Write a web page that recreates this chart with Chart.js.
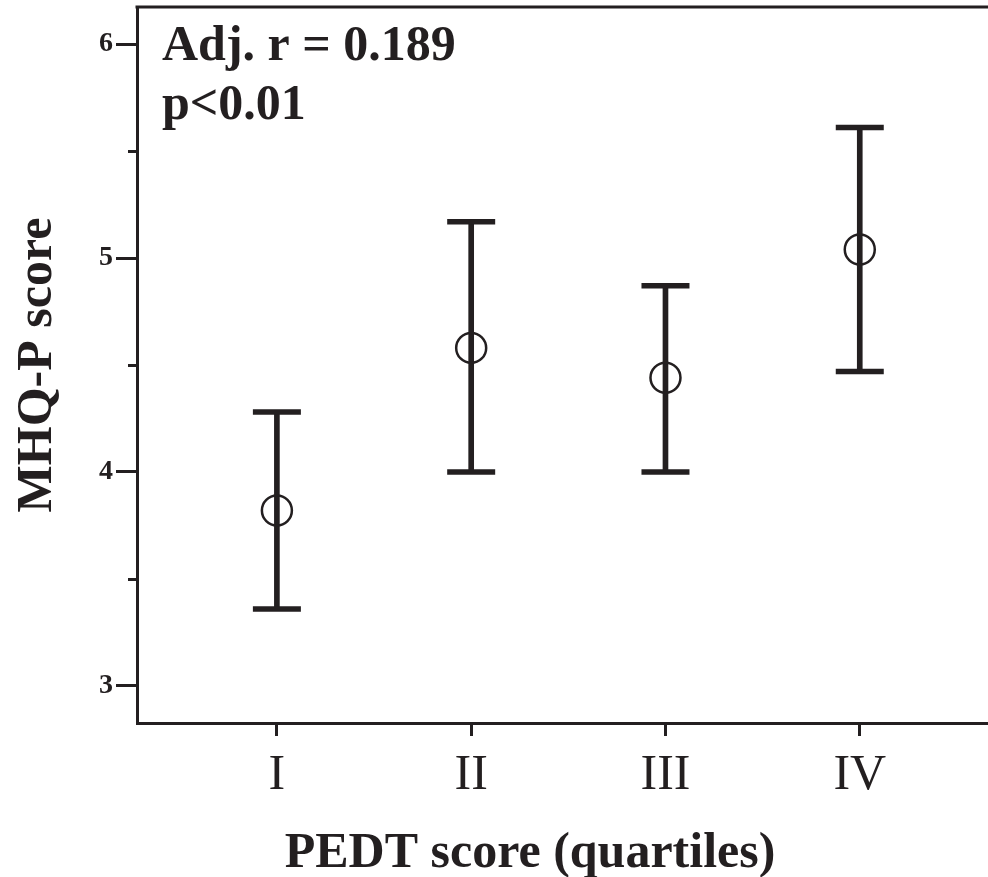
<!DOCTYPE html>
<html>
<head>
<meta charset="utf-8">
<script src="https://cdn.jsdelivr.net/npm/chart.js@4/dist/chart.umd.min.js"></script>
<style>
  html, body { margin: 0; padding: 0; background: #fff; }
  canvas { display: block; }
</style>
</head>
<body>
<canvas id="c" width="988" height="877"></canvas>
<script>
// PEDT score quartiles and MHQ-P scores (mean with error range)
const quartiles = ['I', 'II', 'III', 'IV'];
const quartilePos = [1, 2, 3, 4];
const meanScore = [3.82, 4.58, 4.44, 5.04];
const upperScore = [4.28, 5.17, 4.87, 5.61];
const lowerScore = [3.36, 4.00, 4.00, 4.47];
const yMajorTicks = [3, 4, 5, 6];
const yMinorTicks = [3.5, 4.5, 5.5];
const statLines = ['Adj. r = 0.189', 'p<0.01'];
const xTitle = 'PEDT score (quartiles)';
const yTitle = 'MHQ-P score';

const INK = '#231f20';
const SERIF = '"Liberation Serif", "Times New Roman", serif';

const whiskers = quartilePos.map((x, i) => ({ x, y: [lowerScore[i], upperScore[i]] }));
const caps = [];
quartilePos.forEach((x, i) => {
  caps.push({ x, y: upperScore[i] });
  caps.push({ x, y: lowerScore[i] });
});
const means = quartilePos.map((x, i) => ({ x, y: meanScore[i] }));

function noEdgePadding(scale) {
  scale.paddingLeft = 0;
  scale.paddingRight = 0;
  scale.paddingTop = 0;
  scale.paddingBottom = 0;
}

// frame top edge, minor y ticks and free text
const decorations = {
  id: 'decorations',
  afterDraw(chart) {
    const { ctx, chartArea } = chart;
    const y = chart.scales.y;
    ctx.save();
    ctx.strokeStyle = INK;
    ctx.lineWidth = 3;
    ctx.beginPath();
    ctx.moveTo(chartArea.left - 1.5, chartArea.top);
    ctx.lineTo(chartArea.right, chartArea.top);
    ctx.stroke();

    ctx.lineWidth = 3;
    yMinorTicks.forEach(v => {
      const py = Math.round(y.getPixelForValue(v)) + 0.5;
      ctx.beginPath();
      ctx.moveTo(chartArea.left - 9, py);
      ctx.lineTo(chartArea.left, py);
      ctx.stroke();
    });

    ctx.fillStyle = INK;
    ctx.textBaseline = 'alphabetic';
    ctx.textAlign = 'left';
    ctx.font = 'bold 50px ' + SERIF;
    ctx.fillText(statLines[0], chartArea.left + 25, 60);
    ctx.fillText(statLines[1], chartArea.left + 25, 119);

    ctx.textAlign = 'center';
    ctx.fillText(xTitle, 530, 867);
    ctx.restore();
  }
};

new Chart(document.getElementById('c'), {
  type: 'scatter',
  data: {
    datasets: [
      {
        type: 'scatter',
        data: means,
        pointStyle: 'circle',
        pointRadius: 15,
        pointHoverRadius: 15,
        borderWidth: 2.5,
        borderColor: INK,
        backgroundColor: 'rgba(0,0,0,0)'
      },
      {
        type: 'scatter',
        data: caps,
        pointStyle: 'line',
        pointRadius: 24,
        pointHoverRadius: 24,
        borderWidth: 5.5,
        borderColor: INK,
        backgroundColor: INK
      },
      {
        type: 'bar',
        data: whiskers,
        barThickness: 5,
        backgroundColor: INK,
        borderWidth: 0
      }
    ]
  },
  options: {
    responsive: false,
    devicePixelRatio: 1,
    animation: false,
    layout: { autoPadding: false, padding: { top: 7, right: 0, left: 0, bottom: 0 } },
    plugins: { legend: { display: false }, tooltip: { enabled: false } },
    scales: {
      x: {
        type: 'linear',
        min: 0.28,
        max: 4.66,
        offset: false,
        afterBuildTicks(scale) { scale.ticks = quartilePos.map(v => ({ value: v })); },
        afterFit(scale) { scale.height = 154; noEdgePadding(scale); },
        ticks: {
          callback: (v) => quartiles[quartilePos.indexOf(v)] ?? '',
          font: { family: SERIF, size: 50 },
          color: INK,
          padding: 10,
          maxRotation: 0,
          autoSkip: false
        },
        grid: { offset: false, drawOnChartArea: false, tickLength: 13, tickWidth: 3, tickColor: INK },
        border: { display: true, color: INK, width: 3 }
      },
      y: {
        type: 'linear',
        min: 2.827,
        max: 6.173,
        afterBuildTicks(scale) { scale.ticks = yMajorTicks.map(v => ({ value: v })); },
        afterFit(scale) { scale.width = 137; noEdgePadding(scale); },
        ticks: {
          font: { family: SERIF, size: 28, weight: 'bold' },
          color: INK,
          padding: 3
        },
        grid: { offset: false, drawOnChartArea: false, tickLength: 21, tickWidth: 3, tickColor: INK },
        border: { display: true, color: INK, width: 3 },
        title: {
          display: true,
          text: yTitle,
          font: { family: SERIF, size: 50, weight: 'bold' },
          color: INK,
          padding: { top: 8, bottom: 0 }
        }
      }
    }
  },
  plugins: [decorations]
});
</script>
</body>
</html>
